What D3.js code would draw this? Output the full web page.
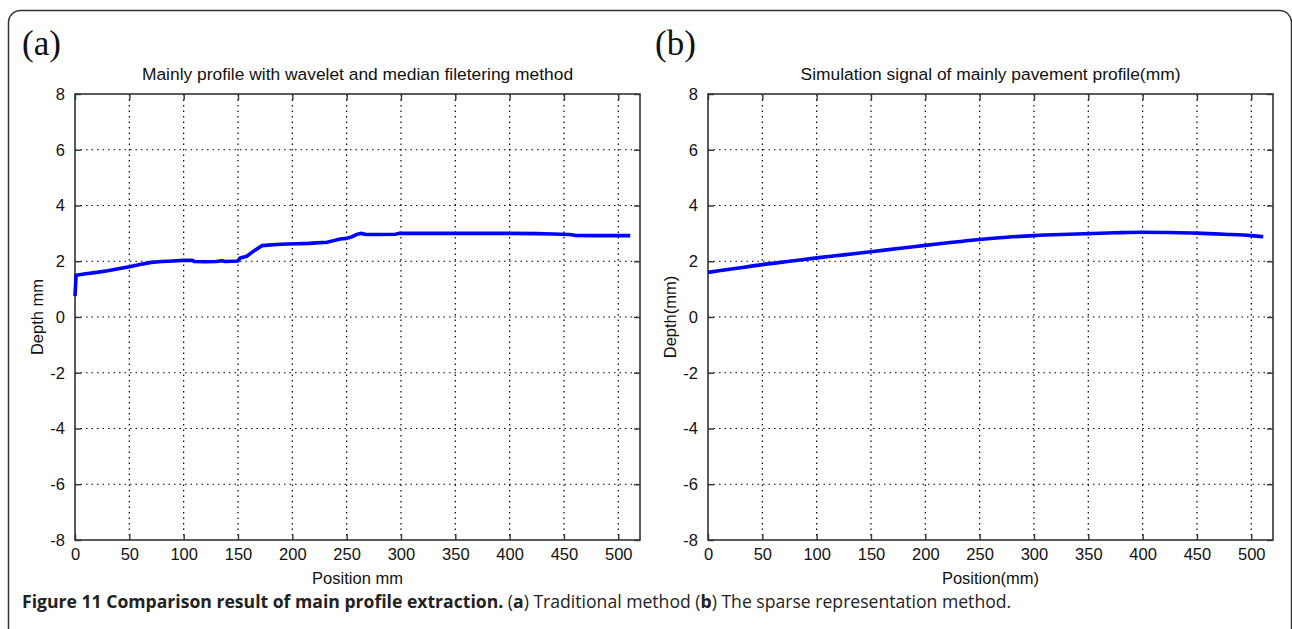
<!DOCTYPE html>
<html>
<head>
<meta charset="utf-8">
<script src="https://cdn.jsdelivr.net/npm/d3@7"></script>
<style>
  html, body { margin: 0; padding: 0; background: #fff; }
  svg { display: block; }
</style>
</head>
<body>
<svg id="fig" width="1292" height="629"></svg>
<script>
// Axis ticks shared by both panels
const xTicks = [0, 50, 100, 150, 200, 250, 300, 350, 400, 450, 500];
const yTicks = [-8, -6, -4, -2, 0, 2, 4, 6, 8];

// (a) profile from wavelet + median filtering
const positionA = [0, 1, 10, 20, 30, 40, 50, 60, 70, 80, 90, 100, 108, 110, 120, 130, 135, 138, 145, 150,
  152, 158, 165, 172, 178, 185, 195, 205, 215, 222, 232, 238, 244, 250, 255, 260, 263, 268, 280, 295,
  298, 320, 350, 380, 400, 425, 440, 455, 460, 480, 500, 511];
const depthA = [0.75, 1.50, 1.55, 1.60, 1.66, 1.73, 1.80, 1.88, 1.96, 1.99, 2.01, 2.03, 2.03, 1.99, 1.98, 1.99, 2.02, 1.99, 2.00, 2.01,
  2.12, 2.18, 2.38, 2.56, 2.58, 2.60, 2.62, 2.63, 2.64, 2.66, 2.68, 2.74, 2.80, 2.82, 2.88, 2.97, 3.00, 2.96, 2.96, 2.97,
  3.00, 3.00, 3.00, 3.00, 3.00, 2.99, 2.98, 2.96, 2.93, 2.92, 2.92, 2.92];

// (b) sparse representation simulation signal
const positionB = [0, 25, 50, 75, 100, 125, 150, 175, 200, 225, 250, 275, 300, 325, 350, 375, 400, 425, 450, 475, 500, 511];
const depthB = [1.60, 1.74, 1.88, 2.00, 2.12, 2.23, 2.34, 2.46, 2.57, 2.68, 2.78, 2.86, 2.92, 2.96, 2.99, 3.02, 3.04, 3.03, 3.01, 2.97, 2.92, 2.88];

const panels = [
  { tag: "(a)", title: "Mainly profile with wavelet and median filetering method",
    xLabel: "Position mm", yLabel: "Depth mm", xs: positionA, ys: depthA,
    left: 75, right: 640, curve: d3.curveLinear },
  { tag: "(b)", title: "Simulation signal of mainly pavement profile(mm)",
    xLabel: "Position(mm)", yLabel: "Depth(mm)", xs: positionB, ys: depthB,
    left: 708, right: 1273, curve: d3.curveMonotoneX }
];

const svg = d3.select("#fig");
const axisFont = "'Liberation Sans', Arial, sans-serif";

// outer figure frame
svg.append("rect")
  .attr("x", 8.5).attr("y", 10.5)
  .attr("width", 1283).attr("height", 640)
  .attr("rx", 12).attr("ry", 12)
  .attr("fill", "none").attr("stroke", "#333").attr("stroke-width", 1.5);

const plotTop = 94, plotBottom = 540;

panels.forEach(p => {
  const x = d3.scaleLinear().domain([0, 520]).range([p.left, p.right]);
  const y = d3.scaleLinear().domain([-8, 8]).range([plotBottom, plotTop]);
  const g = svg.append("g");

  // dotted grid
  g.append("g").selectAll("line").data(xTicks.filter(t => t > 0)).join("line")
    .attr("x1", d => x(d)).attr("x2", d => x(d))
    .attr("y1", plotTop).attr("y2", plotBottom)
    .attr("stroke", "#000").attr("stroke-width", 1.2).attr("stroke-dasharray", "1.5,4");
  g.append("g").selectAll("line").data(yTicks.filter(t => t > -8 && t < 8)).join("line")
    .attr("x1", p.left).attr("x2", p.right)
    .attr("y1", d => y(d)).attr("y2", d => y(d))
    .attr("stroke", "#000").attr("stroke-width", 1.2).attr("stroke-dasharray", "1.5,4");

  // axes with inward ticks on all four sides
  const tickLen = 6;
  const fmt = d => String(d);
  const xb = g.append("g").attr("transform", `translate(0,${plotBottom})`)
    .call(d3.axisBottom(x).tickValues(xTicks).tickFormat(fmt).tickSizeInner(-tickLen).tickSizeOuter(0).tickPadding(8));
  const xt = g.append("g").attr("transform", `translate(0,${plotTop})`)
    .call(d3.axisTop(x).tickValues(xTicks).tickSizeInner(-tickLen).tickSizeOuter(0).tickFormat(""));
  const yl = g.append("g").attr("transform", `translate(${p.left},0)`)
    .call(d3.axisLeft(y).tickValues(yTicks).tickFormat(fmt).tickSizeInner(-tickLen).tickSizeOuter(0).tickPadding(10));
  const yr = g.append("g").attr("transform", `translate(${p.right},0)`)
    .call(d3.axisRight(y).tickValues(yTicks).tickSizeInner(-tickLen).tickSizeOuter(0).tickFormat(""));
  [xb, xt, yl, yr].forEach(a => {
    a.select(".domain").remove();
    a.selectAll(".tick line").attr("stroke", "#333").attr("stroke-width", 1.4);
    a.selectAll("text").attr("font-family", axisFont).attr("font-size", 16.5).attr("fill", "#111");
  });

  // box
  g.append("rect").attr("x", p.left).attr("y", plotTop)
    .attr("width", p.right - p.left).attr("height", plotBottom - plotTop)
    .attr("fill", "none").attr("stroke", "#333").attr("stroke-width", 1.6);

  // profile line
  const pts = p.xs.map((v, i) => [v, p.ys[i]]);
  g.append("path").datum(pts)
    .attr("d", d3.line().x(d => x(d[0])).y(d => y(d[1])).curve(p.curve))
    .attr("fill", "none").attr("stroke", "#0000ff").attr("stroke-width", 3.6)
    .attr("stroke-linejoin", "round");

  const cx = (p.left + p.right) / 2;
  g.append("text").attr("x", cx).attr("y", 80).attr("text-anchor", "middle")
    .attr("font-family", axisFont).attr("font-size", 17.4).attr("fill", "#111").text(p.title);
  g.append("text").attr("x", cx).attr("y", 584).attr("text-anchor", "middle")
    .attr("font-family", axisFont).attr("font-size", 16.5).attr("fill", "#111").text(p.xLabel);
  g.append("text").attr("transform", `translate(${p.left - 32},${(plotTop + plotBottom) / 2}) rotate(-90)`)
    .attr("text-anchor", "middle")
    .attr("font-family", axisFont).attr("font-size", 16.5).attr("fill", "#111").text(p.yLabel);

  // panel tag
  g.append("text").attr("x", p.left - 53).attr("y", 55)
    .attr("font-family", "'Liberation Serif', 'DejaVu Serif', serif").attr("font-size", 35)
    .attr("fill", "#111").text(p.tag);
});

// caption
const cap = svg.append("text").attr("x", 22).attr("y", 608)
  .attr("font-family", "'Open Sans', 'Noto Sans', sans-serif").attr("font-size", 17.6).attr("fill", "#222");
cap.append("tspan").attr("font-weight", "bold").text("Figure 11 Comparison result of main profile extraction.");
cap.append("tspan").text(" (");
cap.append("tspan").attr("font-weight", "bold").text("a");
cap.append("tspan").text(") Traditional method (");
cap.append("tspan").attr("font-weight", "bold").text("b");
cap.append("tspan").text(") The sparse representation method.");
</script>
</body>
</html>
